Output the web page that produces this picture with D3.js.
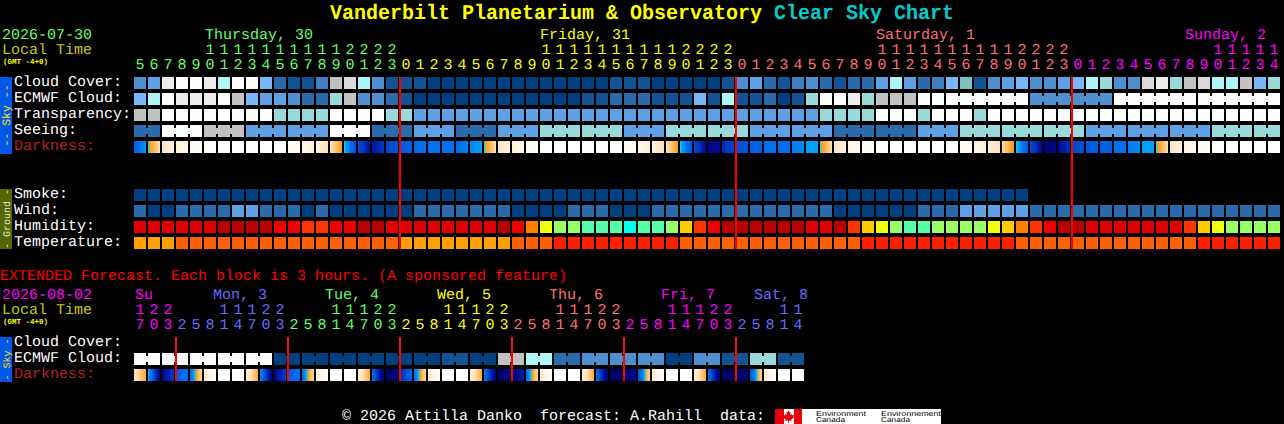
<!DOCTYPE html>
<html>
<head>
<meta charset="utf-8">
<title>Vanderbilt Planetarium & Observatory Clear Sky Chart</title>
<script src="https://cdn.jsdelivr.net/npm/d3@7/dist/d3.min.js"></script>
<style>
html,body{margin:0;padding:0;background:#000;overflow:hidden}
svg{display:block}
text{font-family:"Liberation Mono",monospace;font-size:15px;white-space:pre;text-rendering:geometricPrecision}
.tick text{font-family:"Liberation Mono",monospace;font-size:15px;text-rendering:geometricPrecision}
</style>
</head>
<body>
<svg id="chart" width="1284" height="424"></svg>
<script>
// ---------- data ----------
const mainHours=[5,6,7,8,9,10,11,12,13,14,15,16,17,18,19,20,21,22,23,
0,1,2,3,4,5,6,7,8,9,10,11,12,13,14,15,16,17,18,19,20,21,22,23,
0,1,2,3,4,5,6,7,8,9,10,11,12,13,14,15,16,17,18,19,20,21,22,23,
0,1,2,3,4,5,6,7,8,9,10,11,12,13,14];
const extHours=[17,20,23,2,5,8,11,14,17,20,23,2,5,8,11,14,17,20,23,2,5,8,11,14,17,20,23,2,5,8,11,14,17,20,23,2,5,8,11,14,17,20,23,2,5,8,11,14];
const mainDayLabels=[["Thursday, 30",205],["Friday, 31",540],["Saturday, 1",876],["Sunday, 2",1185]];
const extDayLabels=[["Su",135],["Mon, 3",213],["Tue, 4",325],["Wed, 5",437],["Thu, 6",549],["Fri, 7",661],["Sat, 8",754]];
const mainDayColors=["#66ff66","#ffff00","#ff7070","#ff00ff"];
const extDayColors=["#ff00ff","#6a6aff","#66ff66","#ffff00","#ff7070","#ff00ff","#6a6aff"];

// sky levels: 0 clear ... 12 overcast (5.5 = the dull teal seen once)
const cloudLevels=[0,1,2,3,4,5,5.5,6,7,8,9,10,11,12];
const cloudColors=["#fefefe","#ececec","#d9d9d9","#c2c2c2","#aef5f5","#99d9d9","#7fbfbf","#77b7f7","#5f9fe3","#4f8fcf","#3f7fbf","#2b6bab","#135393","#003f7f"];
const cloudCover=[8,7,1,0,0,1,4,0,0,6,10,11,11,9,3,2,4,8,11,11,11,
12,12,12,12,12,12,12,12,12,12,12,12,12,11,11,11,12,12,12,12,12,11,8,7,10,11,9,8,10,11,10,
10,7,4,7,10,9,6,5.5,11,8,7,6,8,8,7,6,4,5,8,8,2,1,5,3,2,4,4,3,6,5];
const ecmwfCloud=[6,4,0,1,1,1,0,3,6,7,7,8,10,10,5,3,8,8,10,11,12,
12,12,12,12,12,12,12,12,12,12,12,11,11,10,10,10,11,11,11,6,11,4,11,11,10,12,11,5,0,0,1,
5,3,3,3,0,0,0,0,0,0,0,0,8,8,8,8,8,8,0,0,0,0,0,0,0,0,0,0,0,0];
const transparency=[3,3,0,0,0,0,0,0,0,0,5,5,5,5,0,0,0,0,5,5,7,
7,7,7,7,7,7,7,7,7,7,7,7,7,7,7,7,7,7,7,7,7,7,7,7,7,7,7,7,5,5,5,
5,0,0,0,5,0,0,0,5,0,0,0,0,0,0,0,0,0,0,0,0,0,0,0,0,0,0,0,0,0];
const seeing=[10,10,0,0,0,3,3,3,7,7,7,7,7,7,0,0,0,10,10,10,7,
7,7,10,10,10,7,7,7,5,5,5,5,5,5,7,7,7,5,5,5,5,5,5,7,7,7,7,7,7,10,10,
10,10,10,10,7,7,7,5,5,5,5,5,5,5,5,5,7,7,7,7,7,7,7,7,7,5,5,5,5,5];
const smoke=[12,12,12,12,12,12,12,12,12,12,12,12,12,12,12,12,12,12,12,12,12,12,12,12,12,12,12,12,12,12,12,12,
12,12,12,12,12,12,12,12,12,12,12,12,12,12,12,12,12,12,12,12,12,12,12,12,12,12,12,12,12,12,12,12];
const wind=[10,12,12,10,10,10,10,7,7,10,10,10,12,10,12,12,12,12,12,12,10,
10,10,10,10,10,10,12,12,12,12,10,10,10,12,12,12,10,10,10,10,10,10,10,10,10,10,10,10,10,12,12,
12,12,12,12,10,10,10,7,7,7,7,7,10,10,10,10,10,10,10,10,10,10,10,10,10,10,10,10,10,10];
const humidityLevels=[95,90,85,80,75,70,65,60,55,50];
const humidityColors=["#b80000","#e00000","#ee0000","#ff3300","#ff8000","#ffcc00","#eeff10","#99ff66","#55ffaa","#00ffee"];
const humidity=[90,90,90,90,90,90,95,95,95,95,85,85,80,80,85,85,95,95,90,90,90,
90,90,90,90,90,95,85,75,65,60,60,55,55,55,50,55,55,60,70,80,85,95,95,95,95,95,95,90,90,95,80,
70,65,60,55,55,60,60,60,60,65,70,75,80,85,95,95,90,90,90,90,90,90,90,80,70,65,60,60,60,60];
const temperatureLevels=[75,82,88];
const temperatureColors=["#ffa000","#ff6000","#ff2000"];
const temperature=[75,75,75,82,82,82,82,82,82,82,82,82,82,82,82,82,82,82,82,75,75,
75,75,75,75,75,75,82,82,82,88,88,88,88,88,88,88,88,88,82,82,82,82,82,82,82,82,82,82,82,82,82,
88,88,88,88,88,88,88,88,88,88,88,82,82,82,82,82,82,82,82,82,82,82,82,82,88,88,88,88,88,88];
// darkness: [level at block's left edge, level at its right edge]; 0 = daylight, 10 = darkest
const darknessStops=[0,0.5,1,1.5,2,2.5,3,3.5,3.6,4,4.5,5,5.5,6,7,8,9,10];
const darknessColors=["#ffffff","#fffaf2","#fff4e4","#ffecd0","#ffe0b4","#ffca80","#ffb040","#f59a20","#00e8ff","#00a0ff","#0080f0","#0070f0","#0060e8","#0050d8","#0028b8","#000a90","#000070","#000050"];
const darkness=[[5.5,4.1],[3.7,2],[1.9,1.1],[1.3,.7],[.6,.2],[0,0],[0,0],[0,0],[0,0],[0,0],[0,0],[.2,.6],[.9,1.3],[1.2,2],[1.9,3.5],[3.65,6],[6,7.7],[7.7,6.5],[6.3,5.9],[5.7,5.5],[5.2,5],
[5,5],[5,5],[5.2,4.4],[4.4,4],[3.7,2],[1.9,1.1],[1.3,.7],[.6,.2],[0,0],[0,0],[0,0],[0,0],[0,0],[0,0],[.2,.6],[.9,1.3],[1.2,2],[1.9,3.5],[3.65,5.8],[6,8],[8.3,8],[7,6.2],[6,5.8],[5.5,5.5],[5,5],[5.1,5],[4.6,4.3],[4,4],[3.7,2],[1.9,1.1],[1.1,.6],
[.5,.2],[0,0],[0,0],[0,0],[0,0],[0,0],[0,0],[.2,.6],[.9,1.3],[1.4,2],[2.2,3.5],[3.65,5.6],[6,8],[9,8.2],[8,6.8],[6.2,6],[5.8,5.6],[5.5,5.4],[5,5],[4.6,4.3],[4,4],[3.7,2],[1.9,1.1],[1,.6],[.5,.2],[0,0],[0,0],[0,0],[0,0],[0,0]];
const extEcmwf=[0,0,0,0,0,0,0,0,0,0,12,12,12,12,12,12,12,12,12,12,12,12,11,11,12,12,3,3,4,4,10,10,8,8,8,8,8,8,12,12,8,8,11,11,5,5,11,11];
const extDarkness=[[1.7,3.2],[3.75,8.4],[8.2,6.6],[5.6,4.9],[5,2],[1.5,.5],[0,0],[0,0],[1.2,3.2],[4.2,8.6],[8.4,6.4],[5.6,5],[5,2],[1.3,.5],[0,0],[0,0],[1.2,3.2],[5,9],[9.4,8.4],[7,5.2],[5,2],[1.5,.5],[0,0],[0,0],[1.2,3.2],[4.8,8.6],[9.4,8.6],[8.4,7.4],[5,2],[1.5,.5],[0,0],[0,0],[1.2,3.2],[5,9],[9.4,9],[9,8],[6,2],[1.5,.5],[0,0],[0,0],[1.2,3.2],[5,9],[9.6,9.4],[9.4,8.8],[6,2],[1.5,.5],[0,0],[.1,.3]];
const mainRows=["Cloud Cover:","ECMWF Cloud:","Transparency:","Seeing:","Darkness:"];
const groundRows=["Smoke:","Wind:","Humidity:","Temperature:"];
const extRows=["Cloud Cover:","ECMWF Cloud:","Darkness:"];

// ---------- scales ----------
const svg=d3.select("#chart");
const defs=svg.append("defs");
const GAP=2, STEP=14, BLOCK=STEP-GAP, LEFT=134, ROW=16;
const xMain=d3.scaleBand().domain(d3.range(mainHours.length)).range([LEFT,LEFT+mainHours.length*STEP-GAP]).paddingInner(GAP/STEP).paddingOuter(0);
const xExt=d3.scaleBand().domain(d3.range(extHours.length)).range([LEFT,LEFT+extHours.length*STEP-GAP]).paddingInner(GAP/STEP).paddingOuter(0);
const yMain=d3.scaleBand().domain(mainRows).range([77,77+ROW*mainRows.length]);
const yGround=d3.scaleBand().domain(groundRows).range([189,189+ROW*groundRows.length]);
const yExt=d3.scaleBand().domain(extRows).range([337,337+ROW*extRows.length]);
const skyColor=d3.scaleOrdinal(cloudLevels,cloudColors);
const humidityColor=d3.scaleOrdinal(humidityLevels,humidityColors);
const temperatureColor=d3.scaleOrdinal(temperatureLevels,temperatureColors);
const darkColor=d3.scaleLinear().domain(darknessStops).range(darknessColors).interpolate(d3.interpolateRgb);

const txt=(s,x,y,fill)=>svg.append("text").attr("x",x).attr("y",y).attr("fill",fill).text(s);

// ---------- blocks ----------
function blocks(values,x,y,color,groupOf){
  const g=svg.append("g").attr("shape-rendering","crispEdges");
  g.selectAll("rect.b").data(values).join("rect").attr("class","b")
    .attr("x",(d,i)=>x(i)).attr("y",y).attr("width",x.bandwidth()).attr("height",BLOCK).attr("fill",d=>color(d));
  if(groupOf){
    const links=values.map((d,i)=>i).filter(i=>i<values.length-1&&groupOf(i)!==null&&groupOf(i)===groupOf(i+1));
    g.selectAll("rect.l").data(links).join("rect").attr("class","l")
      .attr("x",i=>x(i)+x.bandwidth()).attr("y",y+3).attr("width",GAP).attr("height",BLOCK-6).attr("fill",i=>color(values[i]));
  }
}
let gradId=0;
function darkBlocks(values,x,y){
  const g=svg.append("g").attr("shape-rendering","crispEdges");
  g.selectAll("rect").data(values).join("rect")
    .attr("x",(d,i)=>x(i)).attr("y",y).attr("width",x.bandwidth()).attr("height",BLOCK)
    .attr("fill",d=>{
      const id="dk"+(gradId++);
      const lg=defs.append("linearGradient").attr("id",id);
      const t=d3.scaleLinear().domain([0,1]).range(d);
      d3.range(0,1.0001,1/BLOCK).forEach(f=>lg.append("stop").attr("offset",f).attr("stop-color",darkColor(t(f))));
      return `url(#${id})`;
    });
}
function dayIndex(hours){let k=0;return hours.map((h,i)=>{if(i&&h<hours[i-1])k++;return k;});}
function hourAxes(hours,x,palette,yTens,yUnits){
  const days=dayIndex(hours), cols=d3.range(hours.length);
  const draw=(vals,fmt,y)=>{
    const g=svg.append("g").attr("transform",`translate(0,${y})`)
      .call(d3.axisTop(x).tickValues(vals).tickSize(0).tickPadding(0).tickFormat(fmt).offset(0));
    g.select(".domain").remove();
    g.attr("font-family",null).attr("font-size",null);
    g.selectAll(".tick text").attr("fill",i=>palette[days[i]]).attr("dy",0);
  };
  draw(cols.filter(i=>hours[i]>=10),i=>Math.floor(hours[i]/10),yTens);
  draw(cols,i=>hours[i]%10,yUnits);
}
function midnightLines(hours,x,y0,y1,first){
  const cols=d3.range(first,hours.length).filter(i=>hours[i]<hours[i-1]);
  svg.append("g").attr("shape-rendering","crispEdges").selectAll("rect").data(cols).join("rect")
    .attr("x",i=>x(i)-1).attr("y",y0).attr("width",2).attr("height",y1-y0).attr("fill","#ff0000");
}
function sideBar(y0,y1,fill,label,color,size){
  svg.append("rect").attr("x",0).attr("y",y0).attr("width",12).attr("height",y1-y0).attr("fill",fill).attr("shape-rendering","crispEdges");
  svg.append("text").attr("transform",`translate(9.5,${(y0+y1)/2}) rotate(-90)`).attr("text-anchor","middle")
    .attr("fill",color).style("font-size",size+"px").text(label);
}

blocks(cloudCover,xMain,yMain("Cloud Cover:"),skyColor);
blocks(ecmwfCloud,xMain,yMain("ECMWF Cloud:"),skyColor,i=>i>=58?Math.floor((i-58)/6):null);
blocks(transparency,xMain,yMain("Transparency:"),skyColor);
blocks(seeing,xMain,yMain("Seeing:"),skyColor,i=>Math.floor((i+1)/3));
darkBlocks(darkness,xMain,yMain("Darkness:"));
blocks(smoke,xMain,yGround("Smoke:"),skyColor);
blocks(wind,xMain,yGround("Wind:"),skyColor);
blocks(humidity,xMain,yGround("Humidity:"),humidityColor);
blocks(temperature,xMain,yGround("Temperature:"),temperatureColor);
blocks(extEcmwf,xExt,yExt("ECMWF Cloud:"),skyColor,i=>Math.floor(i/2));
darkBlocks(extDarkness,xExt,yExt("Darkness:"));

midnightLines(mainHours,xMain,77,249,1);
midnightLines(extHours,xExt,337,381,1);

// ---------- text ----------
[["Vanderbilt Planetarium & Observatory",330,432,"#ffff00"],["Clear Sky Chart",774,180,"#00cccc"]].forEach(([s,x,w,c])=>{
  svg.append("text").attr("x",x).attr("y",18.5).attr("textLength",w).attr("lengthAdjust","spacingAndGlyphs")
    .attr("fill",c).style("font-size","21px").style("font-weight","bold").text(s);
});

txt("2026-07-30",2,39,mainDayColors[0]);
txt("Local Time",2,54,"#c8c800");
txt("(GMT -4+0)",3,64,"#ffff00").style("font-size","7.5px").style("font-weight","bold");
mainDayLabels.forEach((d,i)=>txt(d[0],d[1],39,mainDayColors[i]));
hourAxes(mainHours,xMain,mainDayColors,54,69);

mainRows.forEach(r=>txt(r,14,yMain(r)+8.5,r==="Darkness:"?"#b22222":"#ffffff"));
groundRows.forEach(r=>txt(r,14,yGround(r)+8.5,"#ffffff"));

txt("EXTENDED Forecast. Each block is 3 hours. (A sponsored feature)",0,280,"#ff0000");
txt("2026-08-02",2,299,"#ff00ff");
txt("Local Time",2,314,"#c8c800");
txt("(GMT -4+0)",3,324,"#ffff00").style("font-size","7.5px").style("font-weight","bold");
extDayLabels.forEach((d,i)=>txt(d[0],d[1],299,extDayColors[i]));
hourAxes(extHours,xExt,extDayColors,314,329);
extRows.forEach(r=>txt(r,14,yExt(r)+8.5,r==="Darkness:"?"#b22222":"#ffffff"));

sideBar(77,154,"#0058e8","-- Sky --","#ffe000",11.5);
sideBar(189,249,"#556600","- Ground -","#e8e8d0",10);
sideBar(337,382,"#0058e8","- Sky -","#ffe000",10);

txt("\u00a9 2026 Attilla Danko  forecast: A.Rahill  data:",342,420,"#ffffff");

// Environment Canada signature
const logo=svg.append("g").attr("transform","translate(775,409)");
logo.append("rect").attr("width",166).attr("height",15).attr("fill","#ffffff").attr("shape-rendering","crispEdges");
logo.append("rect").attr("width",9).attr("height",15).attr("fill","#e8000d").attr("shape-rendering","crispEdges");
logo.append("rect").attr("x",19).attr("width",8).attr("height",15).attr("fill","#e8000d").attr("shape-rendering","crispEdges");
logo.append("path").attr("fill","#e8000d").attr("d","M13.5 1.5l1.2 2 1-.4-.5 3 1.5-1 .4 1.2 1.8-.3-.5 1.8.8.5-2.9 2.3.3 1.2-2.7-.4v2.3h-.8v-2.3l-2.7.4.3-1.2-2.9-2.3.8-.5-.5-1.8 1.8.3.4-1.2 1.5 1-.5-3 1 .4z");
[["Environment",41,50],["Environnement",106,60]].forEach(([s,x,w])=>{
  logo.append("text").attr("x",x).attr("y",6.5).attr("fill","#000").attr("textLength",w).attr("lengthAdjust","spacingAndGlyphs")
    .style("font-family","Liberation Sans").style("font-size","7px").text(s);
  logo.append("text").attr("x",x).attr("y",13).attr("fill","#000").attr("textLength",29).attr("lengthAdjust","spacingAndGlyphs")
    .style("font-family","Liberation Sans").style("font-size","7px").text("Canada");
});
</script>
</body>
</html>
